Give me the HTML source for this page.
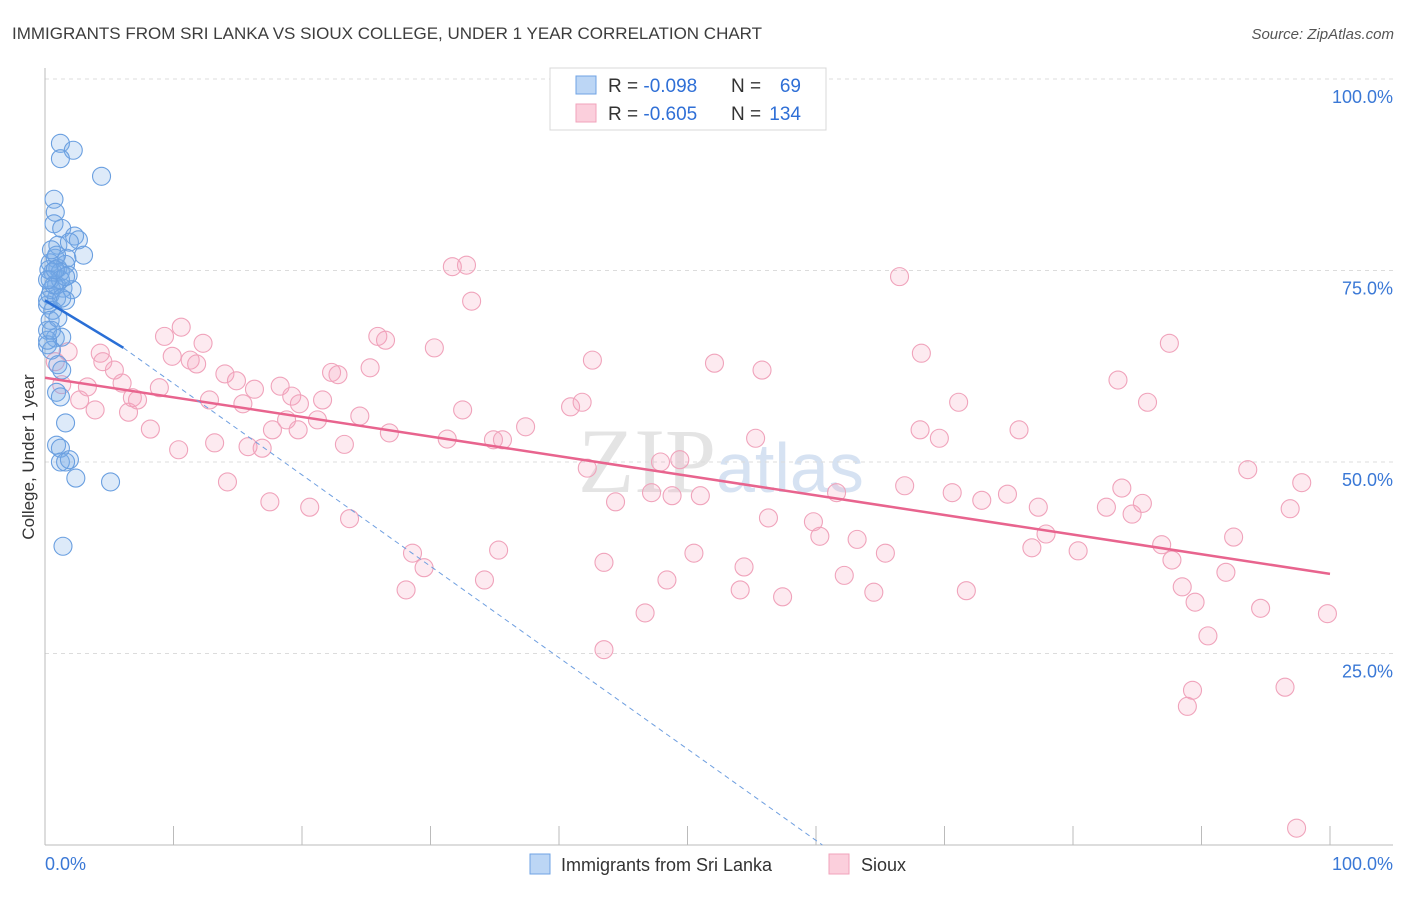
<!DOCTYPE html>
<html><head><meta charset="utf-8"><style>
body{margin:0;background:#fff;font-family:"Liberation Sans",sans-serif;}
</style></head><body>
<svg id="chart" width="1406" height="892" xmlns="http://www.w3.org/2000/svg" font-family="Liberation Sans, sans-serif">
<text x="12" y="39" font-size="17" fill="#3d3d3d">IMMIGRANTS FROM SRI LANKA VS SIOUX COLLEGE, UNDER 1 YEAR CORRELATION CHART</text>
<text x="1394" y="39" font-size="15" fill="#555" font-style="italic" text-anchor="end">Source: ZipAtlas.com</text>
<text transform="translate(34,457) rotate(-90)" font-size="17" fill="#333" text-anchor="middle">College, Under 1 year</text>
<text x="716" y="492" font-size="92" fill="#e4e4e4" text-anchor="end" font-family="Liberation Serif, serif">ZIP</text>
<text x="716" y="492" font-size="70" fill="#d6e2f2">atlas</text>
<g id="grid"></g>
<g id="marks"></g>
<g>
<rect x="550" y="68" width="276" height="62" fill="#fff" stroke="#d8d8d8"/>
<rect x="576" y="76" width="20" height="18" fill="#bcd6f5" stroke="#6fa3e4"/>
<rect x="576" y="104" width="20" height="18" fill="#fbcfdc" stroke="#f2a3bb"/>
<text x="608" y="92" font-size="19" fill="#333">R = <tspan fill="#2f6fd6">-0.098</tspan></text>
<text x="731" y="92" font-size="19" fill="#333">N =</text>
<text x="801" y="92" font-size="19" fill="#2f6fd6" text-anchor="end">69</text>
<text x="608" y="120" font-size="19" fill="#333">R = <tspan fill="#2f6fd6">-0.605</tspan></text>
<text x="731" y="120" font-size="19" fill="#333">N =</text>
<text x="801" y="120" font-size="19" fill="#2f6fd6" text-anchor="end">134</text>
</g>
<g>
<rect x="530" y="854" width="20" height="20" fill="#bcd6f5" stroke="#6fa3e4"/>
<text x="561" y="871" font-size="18" fill="#333">Immigrants from Sri Lanka</text>
<rect x="829" y="854" width="20" height="20" fill="#fbcfdc" stroke="#f2a3bb"/>
<text x="861" y="871" font-size="18" fill="#333">Sioux</text>
</g>
<text x="45" y="870" font-size="18" fill="#3a78d6">0.0%</text>
<text x="1393" y="870" font-size="18" fill="#3a78d6" text-anchor="end">100.0%</text>
</svg>
<script>
const yTicks=[25,50,75,100];
const blueX=[1.2,2.2,1.2,4.4,0.7,0.8,0.7,1.3,2.3,2.6,1.0,1.9,3.0,0.8,1.7,0.4,1.0,1.6,0.6,1.2,1.8,0.4,0.9,1.4,2.1,0.4,0.9,1.6,0.2,0.6,0.4,0.2,0.8,1.3,0.2,0.5,1.0,1.3,0.9,1.2,1.6,0.9,1.2,1.2,1.9,1.6,2.4,5.1,1.4,0.2,0.3,0.5,0.9,1.0,0.2,1.2,0.5,0.7,1.6,0.2,0.5,0.8,1.3];
const blueY=[91.6,90.7,89.6,87.3,84.3,82.6,81.1,80.5,79.5,79.0,78.3,78.7,77.0,76.6,76.6,76.0,75.3,75.8,74.8,74.8,74.4,73.8,73.1,72.7,72.5,71.8,71.4,71.1,70.5,69.8,68.5,67.2,66.2,66.3,65.3,64.6,62.7,62.0,59.1,58.5,55.1,52.2,51.8,50.0,50.3,50.0,47.9,47.4,39.0,65.9,75.1,72.5,77.0,68.8,71.1,73.8,77.7,73.1,74.2,73.8,67.2,75.1,71.4];
const pinkX=[0.8,1.8,1.3,4.3,4.5,5.4,6.0,2.7,3.3,3.9,6.5,6.8,7.2,8.2,8.9,9.3,9.9,10.4,10.6,11.3,11.8,12.3,12.8,13.2,14.0,14.2,14.9,15.4,15.8,16.3,16.9,17.5,17.7,18.3,18.8,19.2,19.7,19.8,20.6,21.2,21.6,22.3,22.8,23.3,23.7,24.5,25.3,25.9,26.5,26.8,28.1,28.6,29.5,30.3,31.3,31.7,32.8,33.2,32.5,34.2,34.9,35.3,35.6,37.4,40.9,41.8,42.2,42.6,43.5,43.5,44.4,46.7,47.2,47.9,48.4,48.8,49.4,50.5,51.0,52.1,54.1,54.4,55.3,55.8,56.3,57.4,59.8,60.3,61.6,62.2,63.2,64.5,65.4,66.5,66.9,68.1,68.2,69.6,70.6,71.1,71.7,72.9,74.9,75.8,76.8,77.3,77.9,80.4,82.6,83.5,83.8,84.6,85.4,85.8,86.9,87.5,87.7,88.5,89.5,90.5,91.9,92.5,93.6,94.6,96.5,96.9,97.8,99.8,97.4,88.9,89.3];
const pinkY=[63.1,64.4,60.1,64.2,63.1,62.0,60.3,58.1,59.8,56.8,56.5,58.4,58.1,54.3,59.7,66.4,63.8,51.6,67.6,63.3,62.8,65.5,58.1,52.5,61.5,47.4,60.6,57.6,52.0,59.5,51.8,44.8,54.2,59.9,55.5,58.6,54.2,57.6,44.1,55.5,58.1,61.7,61.4,52.3,42.6,56.0,62.3,66.4,65.9,53.8,33.3,38.1,36.2,64.9,53.0,75.5,75.7,71.0,56.8,34.6,52.9,38.5,52.9,54.6,57.2,57.8,49.2,63.3,36.9,25.5,44.8,30.3,46.0,50.0,34.6,45.6,50.3,38.1,45.6,62.9,33.3,36.3,53.1,62.0,42.7,32.4,42.2,40.3,46.0,35.2,39.9,33.0,38.1,74.2,46.9,54.2,64.2,53.1,46.0,57.8,33.2,45.0,45.8,54.2,38.8,44.1,40.6,38.4,44.1,60.7,46.6,43.2,44.6,57.8,39.2,65.5,37.2,33.7,31.7,27.3,35.6,40.2,49.0,30.9,20.6,43.9,47.3,30.2,2.2,18.1,20.2];
const blueTrend=[71.1,64.9,0];
const blueTrendX=[0,6.1,60.5];
const pinkTrend=[61.0,35.4];
const pinkTrendX=[0,100];

const X=v=>45+v*12.85, Y=v=>845-v*7.66;
const NS="http://www.w3.org/2000/svg";
const grid=document.getElementById('grid'), marks=document.getElementById('marks');
function mk(tag,attrs,parent){const e=document.createElementNS(NS,tag);for(const k in attrs)e.setAttribute(k,attrs[k]);parent.appendChild(e);return e;}
yTicks.forEach(t=>{
  const l=mk('line',{x1:45,x2:1393,y1:Y(t),y2:Y(t),stroke:'#dcdcdc','stroke-dasharray':'4,4'},grid);
  
  
  const tx=mk('text',{x:1393,y:Y(t)+24,'font-size':18,fill:'#3a78d6','text-anchor':'end'},grid);
  tx.textContent=t.toFixed(1)+'%';
  
  
});
const ax=mk('line',{x1:45,x2:45,y1:68,y2:845,stroke:'#bbb'},grid);


const bx=mk('line',{x1:45,x2:1393,y1:845,y2:845,stroke:'#bbb'},grid);


for(let i=0;i<=10;i++){
  const t=mk('line',{x1:X(i*10),x2:X(i*10),y1:826,y2:845,stroke:'#bbb'},grid);
  
  
}
pinkX.forEach((x,i)=>{
  const c=mk('circle',{cx:X(x),cy:Y(pinkY[i]),r:9,fill:'rgba(244,160,188,0.22)',stroke:'#f0a3bb','stroke-width':1.1},marks);
  
  
});
blueX.forEach((x,i)=>{
  const c=mk('circle',{cx:X(x),cy:Y(blueY[i]),r:9,fill:'rgba(120,172,232,0.25)',stroke:'#6a9fe0','stroke-width':1.1},marks);
  
  
});
const pl=mk('line',{x1:X(pinkTrendX[0]),y1:Y(pinkTrend[0]),x2:X(pinkTrendX[1]),y2:Y(pinkTrend[1]),stroke:'#e8648e','stroke-width':2.5},marks);


const bl=mk('line',{x1:X(blueTrendX[0]),y1:Y(blueTrend[0]),x2:X(blueTrendX[1]),y2:Y(blueTrend[1]),stroke:'#2a6fd6','stroke-width':2.5},marks);


const bd=mk('line',{x1:X(blueTrendX[1]),y1:Y(blueTrend[1]),x2:X(blueTrendX[2]),y2:Y(blueTrend[2]),stroke:'#6f9fe0','stroke-width':1,'stroke-dasharray':'5,4'},marks);


</script>
</body></html>
